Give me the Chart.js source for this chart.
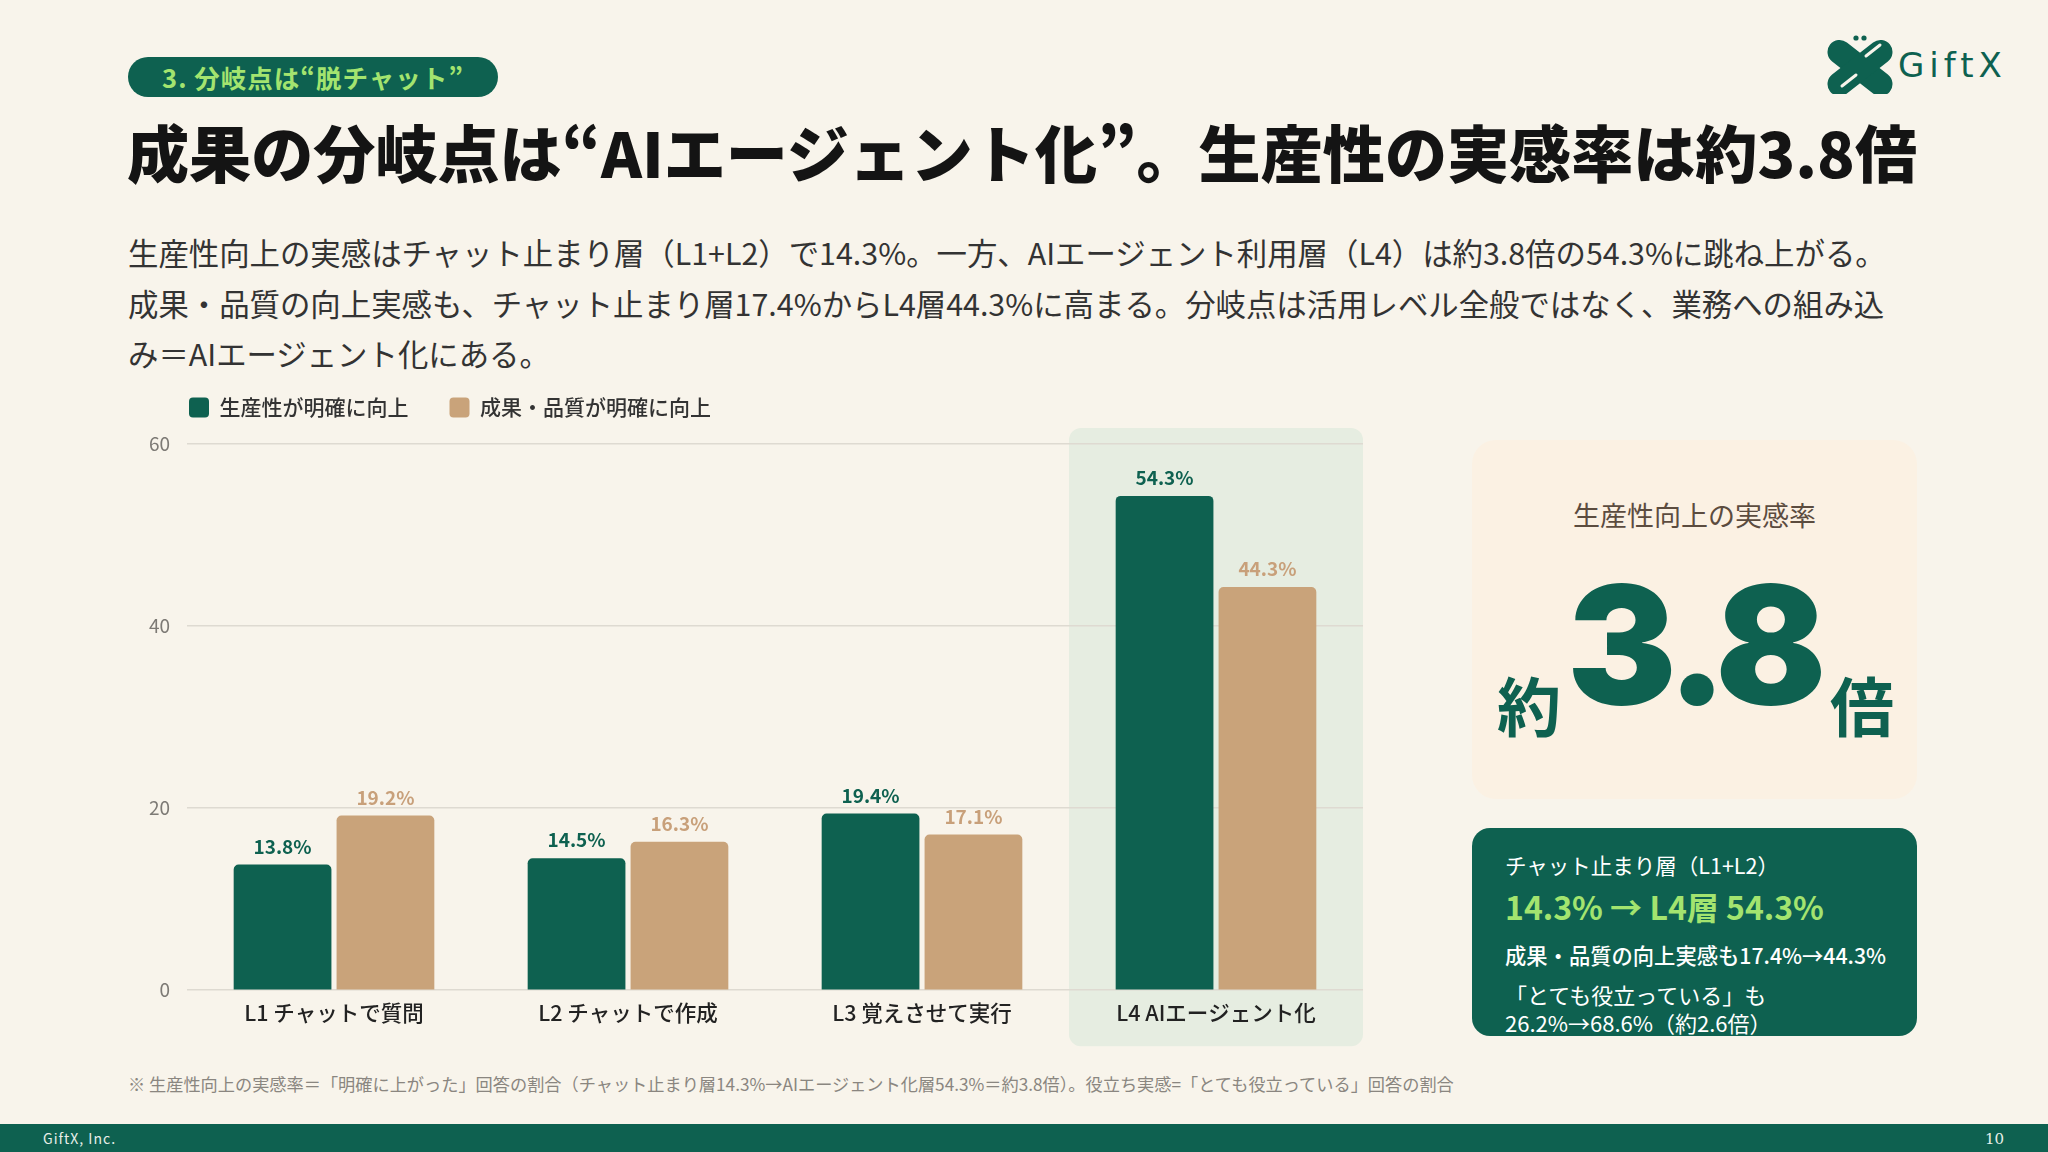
<!DOCTYPE html>
<html lang="ja">
<head>
<meta charset="utf-8">
<script src="https://cdn.jsdelivr.net/npm/chart.js@4.4.1/dist/chart.umd.min.js"></script>
<style>
  body { margin: 0; width: 2048px; height: 1152px; background: #f8f4eb; position: relative; overflow: hidden;
         font-family: "Noto Sans CJK JP", "Noto Sans", sans-serif; color: #222; }
  .abs { position: absolute; white-space: nowrap; }
  #tag { left: 128px; top: 57px; width: 370px; height: 40px; border-radius: 20px; background: #0e6150;
         color: #a3e46f; font-size: 25.5px; font-weight: 700; line-height: 40px; text-align: center; letter-spacing: 1px; }
  #title { left: 127px; top: 113px; font-size: 62.1px; font-weight: 900; line-height: 76px; color: #141414; }
  #lead { left: 128px; top: 227px; font-size: 30.4px; line-height: 50.5px; color: #333; }
  #chartBox { left: 148px; top: 356px; width: 1232px; height: 704px; }
  #card1 { left: 1472px; top: 440px; width: 445px; height: 359px; border-radius: 24px; background: #fbf1e3; }
  #card1 .lbl { left: 0; width: 445px; top: 57px; text-align: center; font-size: 27px; line-height: 36px; color: #5b4c3f; }
  #card1 .big { left: 95px; top: 123px; font-family: Inter, "Noto Sans", sans-serif; font-weight: 900; font-size: 164px; line-height: 164px; color: #0e6150; letter-spacing: -7px; }
  #card1 .yaku { left: 25px; top: 227px; font-size: 64px; font-weight: 700; line-height: 72px; color: #0e6150; }
  #card1 .bai { left: 358px; top: 227px; font-size: 64px; font-weight: 700; line-height: 72px; color: #0e6150; }
  #card2 { left: 1472px; top: 828px; width: 445px; height: 208px; border-radius: 18px; background: #0e6150; color: #fff; }
  #card2 .l1 { left: 33px; top: 23px; font-size: 21.5px; line-height: 28px; }
  #card2 .l2 { left: 33px; top: 58px; font-size: 32px; line-height: 40px; font-weight: 700; color: #a3e46f; }
  #card2 .l3 { left: 33px; top: 112px; font-size: 21.3px; line-height: 30px; font-weight: 500; }
  #card2 .l4 { left: 33px; top: 152px; font-size: 22px; line-height: 28px; }
  #note { left: 128px; top: 1073px; font-size: 17.2px; line-height: 22px; color: #8a8680; }
  #footer { left: 0; top: 1124px; width: 2048px; height: 28px; background: #0e6150; }
  #footer .co { left: 43px; top: 0; font-size: 14px; line-height: 28px; color: #e8efe9; letter-spacing: 1px; }
  #footer .pg { left: 1985px; top: 0; font-size: 15px; line-height: 30px; color: #e8efe9; font-family: "DejaVu Serif", "Liberation Serif", serif; }
  #logo { left: 1826px; top: 34px; }
  #logoText { left: 1898px; top: 40px; font-family: "DejaVu Sans", sans-serif; font-size: 34px; line-height: 50px; color: #0e6150; letter-spacing: 5px; }
</style>
</head>
<body>
<div id="tag" class="abs">3. 分岐点は“脱チャット”</div>
<div id="title" class="abs">成果の分岐点は“AIエージェント化”。生産性の実感率は約3.8倍</div>
<div id="lead" class="abs">生産性向上の実感はチャット止まり層（L1+L2）で14.3%。一方、AIエージェント利用層（L4）は約3.8倍の54.3%に跳ね上がる。<br>成果・品質の向上実感も、チャット止まり層17.4%からL4層44.3%に高まる。分岐点は活用レベル全般ではなく、業務への組み込<br>み＝AIエージェント化にある。</div>

<svg id="logo" class="abs" width="68" height="60" viewBox="0 0 68 60">
  <circle cx="30" cy="4" r="2.6" fill="#0e6150"/>
  <circle cx="38" cy="4" r="2.6" fill="#0e6150"/>
  <g fill="#0e6150">
    <rect x="-4" y="22" width="76" height="24" rx="12" transform="rotate(38 34 34)"/>
    <rect x="-4" y="22" width="76" height="24" rx="12" transform="rotate(-38 34 34)"/>
  </g>
  <line x1="40" y1="22" x2="54" y2="11" stroke="#f8f4eb" stroke-width="3" stroke-linecap="round"/>
  <line x1="16" y1="52" x2="30" y2="41" stroke="#f8f4eb" stroke-width="3" stroke-linecap="round"/>
</svg>
<div id="logoText" class="abs">GiftX</div>

<div id="chartBox" class="abs"><canvas id="chart"></canvas></div>

<div id="card1" class="abs">
  <div class="abs lbl">生産性向上の実感率</div>
  <div class="abs yaku">約</div>
  <div class="abs big">3.8</div>
  <div class="abs bai">倍</div>
</div>

<div id="card2" class="abs">
  <div class="abs l1">チャット止まり層（L1+L2）</div>
  <div class="abs l2">14.3% → L4層 54.3%</div>
  <div class="abs l3">成果・品質の向上実感も17.4%→44.3%</div>
  <div class="abs l4">「とても役立っている」も<br>26.2%→68.6%（約2.6倍）</div>
</div>

<div id="note" class="abs">※ 生産性向上の実感率＝「明確に上がった」回答の割合（チャット止まり層14.3%→AIエージェント化層54.3%＝約3.8倍）。役立ち実感=「とても役立っている」回答の割合</div>

<div id="footer" class="abs">
  <div class="abs co">GiftX, Inc.</div>
  <div class="abs pg">10</div>
</div>

<script>
// data
const categories = ['L1 チャットで質問', 'L2 チャットで作成', 'L3 覚えさせて実行', 'L4 AIエージェント化'];
const seriesNames = ['生産性が明確に向上', '成果・品質が明確に向上'];
const productivity = [13.8, 14.5, 19.4, 54.3];
const quality = [19.2, 16.3, 17.1, 44.3];
const yTicks = [0, 20, 40, 60];
const highlightIndex = 3;

const GREEN = '#0e6150';
const TAN = '#c9a37a';
const labelColors = [GREEN, '#c8a07a'];
const FONT = '"Noto Sans CJK JP", "Noto Sans", sans-serif';

// shaded box behind the L4 group
const highlightPlugin = {
    id: 'highlight',
    beforeDraw(chart) {
        const x = chart.scales.x, y = chart.scales.y;
        const w = (x.right - x.left) / categories.length;
        const left = x.getPixelForValue(highlightIndex) - w / 2;
        const top = y.getPixelForValue(yTicks[yTicks.length - 1]) - 16;
        const bottom = y.getPixelForValue(0) + 56;
        const ctx = chart.ctx;
        ctx.save();
        ctx.fillStyle = '#e6ede1';
        ctx.beginPath();
        ctx.roundRect(left, top, w, bottom - top, 12);
        ctx.fill();
        ctx.restore();
    }
};

// percentage labels above the bars
const valueLabels = {
    id: 'valueLabels',
    afterDatasetsDraw(chart) {
        const ctx = chart.ctx;
        chart.data.datasets.forEach((ds, i) => {
            chart.getDatasetMeta(i).data.forEach((bar, j) => {
                ctx.save();
                ctx.font = '700 19px ' + FONT;
                ctx.fillStyle = labelColors[i];
                ctx.textAlign = 'center';
                ctx.textBaseline = 'middle';
                ctx.fillText(ds.data[j].toFixed(1) + '%', bar.x, bar.y - 18);
                ctx.restore();
            });
        });
    }
};

// fixed legend height so the plot starts where the slide has it
const legendSpace = {
    id: 'legendSpace',
    beforeInit(chart) {
        const fit = chart.legend.fit;
        chart.legend.fit = function () {
            fit.call(this);
            this.height = 88;
        };
    }
};

new Chart(document.getElementById('chart'), {
    type: 'bar',
    data: {
        labels: categories,
        datasets: [
            { label: seriesNames[0], data: productivity, backgroundColor: GREEN, borderRadius: { topLeft: 5, topRight: 5 }, borderSkipped: 'bottom' },
            { label: seriesNames[1], data: quality, backgroundColor: TAN, borderRadius: { topLeft: 5, topRight: 5 }, borderSkipped: 'bottom' }
        ]
    },
    options: {
        responsive: true,
        maintainAspectRatio: false,
        animation: false,
        layout: { padding: { right: 17, bottom: 32 } },
        datasets: { bar: { categoryPercentage: 0.70, barPercentage: 0.95 } },
        plugins: {
            legend: {
                position: 'top',
                align: 'start',
                labels: {
                    boxWidth: 20, boxHeight: 20, padding: 41,
                    useBorderRadius: true, borderRadius: 4,
                    color: '#333',
                    font: { family: FONT, size: 21, weight: '500' }
                }
            },
            tooltip: { enabled: false }
        },
        scales: {
            x: {
                grid: { display: false },
                border: { display: false },
                ticks: { color: '#222', padding: 2, font: { family: FONT, size: 21.5, weight: '500' } }
            },
            y: {
                min: 0, max: 60,
                afterBuildTicks(axis) { axis.ticks = yTicks.map(v => ({ value: v })); },
                afterFit(axis) { axis.width = 39; },
                grid: { color: '#dedad1', lineWidth: 1.5, drawTicks: false },
                border: { display: false },
                ticks: { color: '#7d7a75', padding: 17, font: { family: FONT, size: 19 } }
            }
        }
    },
    plugins: [highlightPlugin, valueLabels, legendSpace]
});
</script>
</body>
</html>
